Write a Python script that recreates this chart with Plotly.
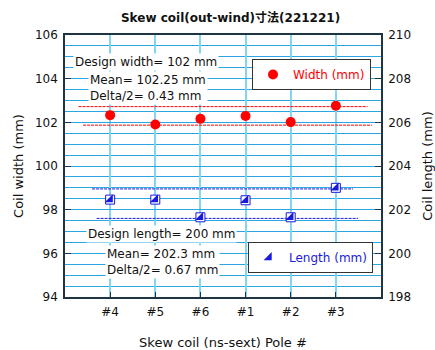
import plotly.graph_objects as go

# ---- data ----
poles = ["#4", "#5", "#6", "#1", "#2", "#3"]
width_mm = [102.33, 101.90, 102.16, 102.29, 102.01, 102.76]
length_mm = [202.46, 202.46, 201.65, 202.43, 201.65, 203.00]
width_limits = [102.72, 101.87]      # dashed max / min lines
length_limits = [202.95, 201.60]
width_y_ticks = [94, 96, 98, 100, 102, 104, 106]
length_y_ticks = [198, 200, 202, 204, 206, 208, 210]

FONT = "DejaVu Sans, Noto Sans CJK JP, sans-serif"
RED = "#ff0000"
BLUE = "#1a1adc"
AXIS = "#1e3440"
HGRID = "#2aa6e2"
VGRID = "#86d4f4"

xpos = list(range(1, len(poles) + 1))

fig = go.Figure()

# dashed limit lines (x extents are just style)
red_spans = [(0.3, 6.7), (0.4, 6.8)]
blue_spans = [(0.6, 6.38), (0.7, 6.49)]
for val, (xa, xb) in zip(width_limits, red_spans):
    fig.add_trace(go.Scatter(x=[xa, xb], y=[val, val], mode="lines",
                             line=dict(color=RED, width=1, dash="3px,1px"),
                             showlegend=False, hoverinfo="skip"))
for val, (xa, xb) in zip(length_limits, blue_spans):
    fig.add_trace(go.Scatter(x=[xa, xb], y=[val, val], mode="lines", yaxis="y2",
                             line=dict(color=BLUE, width=1, dash="3px,1px"),
                             showlegend=False, hoverinfo="skip"))

fig.add_trace(go.Scatter(x=xpos, y=width_mm, mode="markers", name="Width (mm)",
                         marker=dict(symbol="circle", size=10, color=RED),
                         legend="legend"))
# half-filled squares: white square + filled lower-right triangle
fig.add_trace(go.Scatter(x=xpos, y=length_mm, mode="markers", yaxis="y2",
                         marker=dict(symbol="square", size=9, color="white",
                                     line=dict(color=BLUE, width=1)),
                         showlegend=False, hoverinfo="skip"))
fig.add_trace(go.Scatter(x=xpos, y=length_mm, mode="markers", yaxis="y2",
                         name="Length (mm)",
                         marker=dict(symbol="triangle-se", size=9, color=BLUE,
                                     line=dict(color=BLUE, width=0)),
                         legend="legend2"))

ann_font = dict(family=FONT, size=12, color="#111111")
def note(text, x, y):
    fig.add_annotation(text=text, x=x, y=y, xref="paper", yref="paper",
                       xanchor="left", yanchor="middle", showarrow=False,
                       align="left", bgcolor="white", font=ann_font, borderpad=1)

note("Design width= 102 mm", 0.025, (297 - 62) / 262)
note("Mean= 102.25 mm<br>Delta/2= 0.43 mm", 0.072, (297 - 87.5) / 262)
note("Design length= 200 mm", 0.067, (297 - 234) / 262)
note("Mean= 202.3 mm<br>Delta/2= 0.67 mm", 0.128, (297 - 262) / 262)

fig.update_layout(
    width=435, height=350,
    margin=dict(l=65, r=54, t=35, b=53, autoexpand=False),
    paper_bgcolor="white", plot_bgcolor="white",
    font=dict(family=FONT, size=12, color="#111111"),
    title=dict(text="<b>Skew coil(out-wind)寸法(221221)</b>",
               x=0.53, xanchor="center", y=0.95, yanchor="middle",
               font=dict(family=FONT, size=12, color="#111111")),
    xaxis=dict(range=[0, 7], tickvals=xpos, ticktext=poles,
               automargin=False,
               showgrid=True, gridcolor=VGRID, gridwidth=1.5,
               ticks="inside", ticklen=5, tickcolor=AXIS,
               ticklabelstandoff=3,
               showline=True, linecolor=AXIS, linewidth=1.5, mirror=True,
               zeroline=False,
               title=dict(text="Skew coil (ns-sext) Pole #", standoff=26,
                          font=dict(size=13))),
    yaxis=dict(range=[94, 106], tickvals=width_y_ticks,
               automargin=False,
               showgrid=True, gridcolor=HGRID, gridwidth=1,
               minor=dict(dtick=0.5, showgrid=True, gridcolor=HGRID, gridwidth=1),
               ticks="inside", ticklen=6, tickcolor=AXIS,
               ticklabelstandoff=3,
               showline=True, linecolor=AXIS, linewidth=1.5,
               zeroline=False,
               title=dict(text="Coil width (mm)", standoff=8, font=dict(size=13))),
    yaxis2=dict(range=[198, 210], tickvals=length_y_ticks, overlaying="y",
                automargin=False,
                side="right", showgrid=False,
                ticks="inside", ticklen=6, tickcolor=AXIS,
                ticklabelstandoff=3,
                showline=True, linecolor=AXIS, linewidth=1.5,
                zeroline=False,
                title=dict(text="Coil length (mm)", standoff=14, font=dict(size=13))),
    legend=dict(x=(252 - 65) / 316, y=(297 - 59) / 262, xanchor="left", yanchor="top",
                bgcolor="white", bordercolor="#333333", borderwidth=1,
                font=dict(family=FONT, size=12, color=RED)),
    legend2=dict(x=(248 - 65) / 316, y=(297 - 242) / 262, xanchor="left", yanchor="top",
                 bgcolor="white", bordercolor="#333333", borderwidth=1,
                 font=dict(family=FONT, size=12, color=BLUE)),
)

fig.write_html("out.html")
